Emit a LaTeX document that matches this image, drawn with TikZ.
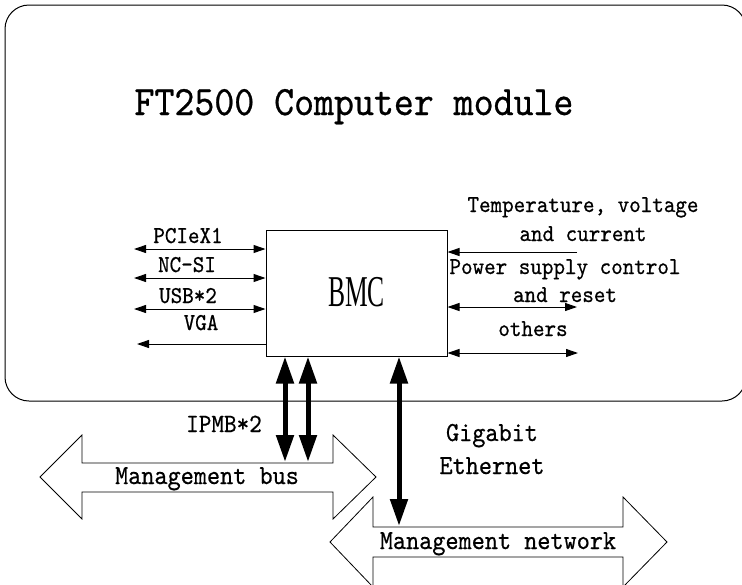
\documentclass[tikz,border=0pt]{standalone}
\usepackage{fontspec}
\newfontfamily\bmcfont{Liberation Serif}
\newfontfamily\labfont{lmmono10-regular.otf}[FakeBold=0.6]
\newcommand{\vstretch}[1]{\scalebox{1}[1.1]{#1}}
\usetikzlibrary{arrows.meta}
\begin{document}
\begin{tikzpicture}[x=1pt,y=-1pt,
  lbl/.style={font=\labfont\fontsize{22}{22}\selectfont, inner sep=0pt, anchor=base},
  biglbl/.style={font=\labfont\fontsize{25}{25}\selectfont, inner sep=0pt, anchor=base},
  thinline/.style={line width=1pt},
  tipR/.style={-{Triangle[length=12pt,width=8pt]}},
  tipLR/.style={{Triangle[length=12pt,width=8pt]}-{Triangle[length=12pt,width=8pt]}},
  thickarr/.style={line width=5pt, {Triangle[length=27pt,width=17pt]}-{Triangle[length=27pt,width=17pt]}},
  blockarrow/.style={line width=0.8pt, fill=white}]
\useasboundingbox (0,0) rectangle (742,584);

% Computer module container
\node[draw, line width=1pt, rounded corners=24pt, minimum width=741pt, minimum height=396pt, inner sep=0pt] (module) at (375.5,203) {};
\node[font=\labfont\fontsize{38}{38}\selectfont, inner sep=0pt, anchor=base] (title) at (354,115) {\vstretch{FT2500 Computer module}};

% BMC box
\node[draw, thinline, minimum width=181pt, minimum height=126pt, inner sep=0pt] (BMC) at (356.5,293) {};
\node[inner sep=0pt, anchor=base] (bmclbl) at (356.5,306) {\scalebox{0.58}[1]{\bmcfont\fontsize{44}{44}\selectfont BMC}};

% left interfaces
\coordinate (pcieL) at (134,249);
\coordinate (ncsiL) at (134,278);
\coordinate (usbL) at (134,309);
\coordinate (vgaL) at (137,344);
\draw[thinline, tipLR] (pcieL) -- (pcieL -| BMC.west);
\draw[thinline, tipLR] (ncsiL) -- (ncsiL -| BMC.west);
\draw[thinline, tipLR] (usbL) -- (usbL -| BMC.west);
\draw[thinline, tipR] (vgaL -| BMC.west) -- (vgaL);
\node[lbl] (pcie) at (188,243) {\vstretch{PCIeX1}};
\node[lbl] (ncsi) at (187,272) {\vstretch{NC-SI}};
\node[lbl] (usb) at (188,303) {\vstretch{USB*2}};
\node[lbl] (vga) at (201,330) {\vstretch{VGA}};

% right interfaces
\coordinate (tempR) at (577,252);
\coordinate (powR) at (577,307);
\coordinate (othR) at (578,353);
\draw[thinline, tipR] (tempR) -- (tempR -| BMC.east);
\draw[thinline, tipLR] (powR -| BMC.east) -- (powR);
\draw[thinline, tipLR] (othR -| BMC.east) -- (othR);
\node[lbl] (temp1) at (583,212) {\vstretch{Temperature, voltage}};
\node[lbl] (temp2) at (583,241) {\vstretch{and current}};
\node[lbl] (pow1) at (565,274) {\vstretch{Power supply control}};
\node[lbl] (pow2) at (565,302) {\vstretch{and reset}};
\node[lbl] (oth) at (533,336) {\vstretch{others}};

% Management bus block arrow
\draw[blockarrow] (40,477) -- (82,435) -- (82,463) -- (333,463) -- (333,435) -- (376,477)
  -- (333,519) -- (333,492) -- (82,492) -- (82,519) -- cycle;
\node[biglbl] (mbus) at (207,484) {\vstretch{Management bus}};

% Management network block arrow
\draw[blockarrow] (330,542) -- (373,497) -- (373,527) -- (623,527) -- (623,497) -- (667,542)
  -- (623,587) -- (623,557) -- (373,557) -- (373,587) -- cycle;
\node[biglbl] (mnet) at (498,549) {\vstretch{Management network}};

% connections to buses
\coordinate (bus1) at (285,462);
\coordinate (bus2) at (308,462);
\coordinate (netc) at (399,526);
\draw[thickarr] (BMC.south -| bus1) -- (bus1);
\draw[thickarr] (BMC.south -| bus2) -- (bus2);
\draw[thickarr] (BMC.south -| netc) -- (netc);
\node[font=\labfont\fontsize{24}{24}\selectfont, inner sep=0pt, anchor=base] (ipmb) at (224,432) {\vstretch{IPMB*2}};
\node[biglbl] (giga1) at (492,441) {\vstretch{Gigabit}};
\node[biglbl] (giga2) at (492,474) {\vstretch{Ethernet}};
\end{tikzpicture}
\end{document}
